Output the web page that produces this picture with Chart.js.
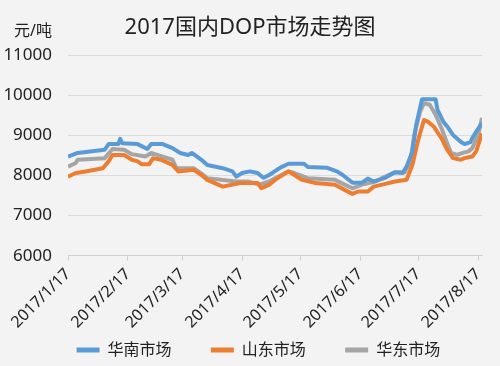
<!DOCTYPE html>
<html>
<head>
<meta charset="utf-8">
<script src="https://cdn.jsdelivr.net/npm/chart.js@4"></script>
<style>
  body { margin: 0; background: #f3f3f3; }
  #wrap { width: 500px; height: 366px; }
</style>
</head>
<body>
<div id="wrap"><canvas id="myChart" width="500" height="366"></canvas></div>
<script>
// Tick labels (one per month, placed at day offsets from 2017/1/17)
const tickLabels = ['2017/1/17', '2017/2/17', '2017/3/17', '2017/4/17', '2017/5/17', '2017/6/17', '2017/7/17', '2017/8/17'];
const tickDays = [0, 31, 59, 90, 120, 151, 181, 212];
const seriesNames = ['华南市场', '山东市场', '华东市场'];
const chartTitle = '2017国内DOP市场走势图';
const unitText = '元/吨';

// 华南市场 (day offset, price)
const southDays = [0, 5, 19, 21, 26, 27, 28, 36, 41, 43, 49, 54, 58, 62, 64, 69, 72, 80, 85, 87, 90, 94, 98, 101, 104, 108, 110, 114, 122, 124, 134, 139, 142, 147, 152, 155, 158, 164, 169, 173, 175, 178, 180, 183, 190, 191, 194, 196, 199, 203, 205, 208, 209, 211, 214];
const southValues = [8470, 8560, 8640, 8780, 8780, 8910, 8800, 8780, 8660, 8780, 8780, 8680, 8560, 8510, 8560, 8390, 8260, 8180, 8100, 7970, 8060, 8100, 8060, 7940, 8010, 8140, 8200, 8290, 8290, 8210, 8190, 8100, 8010, 7820, 7820, 7920, 7850, 7940, 8080, 8060, 8220, 8600, 9260, 9900, 9900, 9630, 9340, 9220, 9010, 8840, 8780, 8830, 8930, 9090, 9300];

// 山东市场
const shandongDays = [0, 4, 9, 18, 21, 23, 29, 33, 36, 38, 42, 44, 48, 50, 54, 57, 65, 69, 72, 80, 89, 98, 100, 104, 107, 114, 117, 121, 128, 138, 143, 147, 150, 155, 158, 164, 169, 175, 178, 181, 184, 186, 189, 193, 196, 199, 203, 205, 209, 211, 214];
const shandongValues = [7970, 8060, 8100, 8180, 8350, 8510, 8510, 8390, 8350, 8280, 8280, 8430, 8390, 8350, 8260, 8100, 8140, 8010, 7890, 7720, 7810, 7810, 7680, 7770, 7890, 8100, 8010, 7890, 7810, 7770, 7640, 7540, 7600, 7600, 7720, 7790, 7850, 7890, 8260, 8880, 9380, 9340, 9220, 8930, 8640, 8430, 8390, 8430, 8470, 8600, 9050];

// 华东市场
const eastDays = [0, 4, 5, 19, 22, 23, 29, 33, 40, 43, 49, 54, 56, 65, 70, 72, 87, 93, 99, 104, 107, 114, 117, 124, 138, 143, 147, 152, 159, 164, 169, 174, 177, 179, 182, 184, 187, 190, 193, 196, 198, 201, 204, 207, 209, 212, 214];
const eastValues = [8220, 8310, 8390, 8430, 8600, 8660, 8640, 8530, 8470, 8560, 8470, 8390, 8180, 8180, 8010, 7930, 7850, 7850, 7770, 7850, 7930, 8100, 8060, 7930, 7890, 7770, 7680, 7770, 7850, 7970, 8080, 8080, 8350, 9010, 9590, 9800, 9760, 9510, 9180, 8800, 8560, 8510, 8560, 8600, 8680, 9010, 9430];

const colors = ['#5b9bd5', '#ed7d31', '#a5a5a5'];
const fontFamily = '"Noto Sans", "Noto Sans CJK SC", sans-serif';

function toPoints(days, values) {
  return days.map((d, i) => ({ x: d, y: values[i] }));
}

// title and unit label in the top band
const headerText = {
  id: 'headerText',
  afterDraw(chart) {
    const c = chart.ctx;
    c.save();
    c.fillStyle = '#222';
    c.textBaseline = 'middle';
    c.font = '22px ' + fontFamily;
    c.textAlign = 'center';
    c.fillText(chartTitle, 250, 28);
    c.font = '16px ' + fontFamily;
    c.textAlign = 'right';
    c.fillText(unitText, 52, 31);
    c.restore();
  }
};

const ctx = document.getElementById('myChart');
const myChart = new Chart(ctx, {
  type: 'line',
  data: {
    datasets: [
      { label: seriesNames[0], data: toPoints(southDays, southValues) },
      { label: seriesNames[1], data: toPoints(shandongDays, shandongValues) },
      { label: seriesNames[2], data: toPoints(eastDays, eastValues) }
    ].map((ds, i) => Object.assign(ds, {
      borderColor: colors[i],
      backgroundColor: colors[i],
      borderWidth: 4,
      pointRadius: 0,
      tension: 0,
      borderJoinStyle: 'round'
    }))
  },
  options: {
    responsive: false,
    animation: false,
    layout: { padding: { left: 0, right: 18, top: 55, bottom: 0 } },
    plugins: {
      title: { display: false },
      legend: {
        position: 'bottom',
        fullSize: false,
        maxHeight: 30,
        labels: {
          color: '#222',
          font: { family: fontFamily, size: 16 },
          boxWidth: 23,
          boxHeight: 5,
          padding: 6,
          // trailing spaces widen each item so the row is spaced like the original
          generateLabels: chart => Chart.defaults.plugins.legend.labels.generateLabels(chart)
            .map(l => Object.assign(l, { lineWidth: 0, text: l.text + '        ' }))
        }
      },
      tooltip: { enabled: false }
    },
    scales: {
      x: {
        type: 'linear',
        min: 0,
        max: 214,
        afterBuildTicks: scale => { scale.ticks = tickDays.map(v => ({ value: v })); },
        ticks: {
          autoSkip: false,
          maxRotation: 45,
          minRotation: 45,
          color: '#222',
          font: { family: fontFamily, size: 16 },
          padding: 4,
          callback: (value, index) => tickLabels[index]
        },
        grid: { drawOnChartArea: false, tickLength: 5, color: '#d0d0d0' },
        border: { color: '#d0d0d0' }
      },
      y: {
        min: 6000,
        max: 11000,
        afterFit: scale => { scale.width = 68; },
        ticks: {
          stepSize: 1000,
          color: '#222',
          font: { family: fontFamily, size: 17 },
          padding: 16,
          callback: value => String(value)
        },
        grid: { color: '#dcdcdc', drawTicks: false },
        border: { display: false }
      }
    }
  },
  plugins: [headerText]
});
</script>
</body>
</html>
